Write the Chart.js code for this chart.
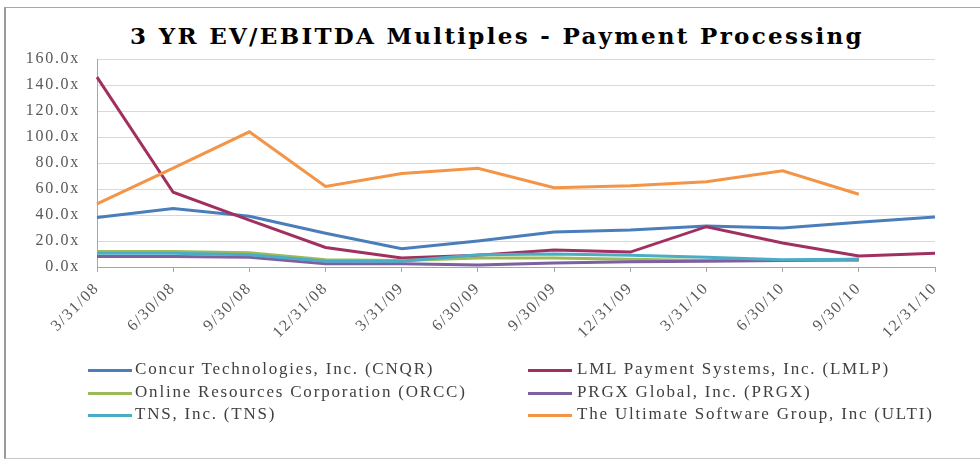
<!DOCTYPE html>
<html lang="en">
<head>
<meta charset="UTF-8" />
<script src="https://cdn.jsdelivr.net/npm/chart.js"></script>
<style>
  body {
    margin: 0;
    width: 980px;
    height: 460px;
    overflow: hidden;
    background: #fff;
    position: relative;
    font-family: "Liberation Serif", serif;
  }
  #frame {
    position: absolute;
    left: 4px;
    top: 7px;
    width: 1000px;
    height: 450px;
    border-left: 2px solid #9a9a9a;
    border-top: 1px solid #a8a8a8;
    border-bottom: 1px solid #c8c8c8;
  }
  #title {
    position: absolute;
    left: 0;
    width: 994px;
    top: 21px;
    line-height: 30px;
    text-align: center;
    font-family: "DejaVu Serif", serif;
    font-size: 23px;
    font-weight: bold;
    letter-spacing: 2.3px;
    color: #000;
  }
  canvas { position: absolute; left: 0; top: 0; }
  .swatch { position: absolute; width: 44px; height: 3px; }
  .ltext {
    position: absolute;
    font-size: 17px;
    line-height: 20px;
    letter-spacing: 1.8px;
    color: #404040;
    white-space: nowrap;
  }
</style>
</head>
<body>
  <div id="frame"></div>
  <div id="title">3 YR EV/EBITDA Multiples - Payment Processing</div>
  <canvas id="evChart" width="980" height="460"></canvas>
  <div id="legend"></div>

<script>
  // quarter ends
  const labels = ["3/31/08", "6/30/08", "9/30/08", "12/31/08", "3/31/09", "6/30/09",
                  "9/30/09", "12/31/09", "3/31/10", "6/30/10", "9/30/10", "12/31/10"];

  // EV/EBITDA multiples (x)
  const cnqr = [38, 45, 39, 26, 14, 20, 27, 28.5, 31.5, 30, 34.5, 38.5];
  const lmlp = [146, 57.5, 36, 15, 7, 9, 13, 11.5, 31, 18.5, 8.5, 10.5];
  const orcc = [12, 12, 11, 5.5, 5, 7, 7, 6, 5, 5, 5, null];
  const prgx = [8, 8, 7.5, 2.5, 2.5, 1.5, 3, 4, 4.5, 5, 6, null];
  const tns  = [10.5, 10.5, 9.5, 4.5, 4.5, 9.5, 10, 9, 7.5, 5.5, 6, null];
  const ulti = [48.5, 76, 104, 62, 72, 76, 61, 62.5, 65.5, 74, 56, null];

  const yTicks = [0, 20, 40, 60, 80, 100, 120, 140, 160];

  const names = [
    "Concur Technologies, Inc. (CNQR)",
    "LML Payment Systems, Inc. (LMLP)",
    "Online Resources Corporation (ORCC)",
    "PRGX Global, Inc. (PRGX)",
    "TNS, Inc. (TNS)",
    "The Ultimate Software Group, Inc (ULTI)"
  ];
  const colors = ["#4a7ebb", "#a0305f", "#9bbb59", "#7d60a0", "#4bacc6", "#f39447"];
  const series = [cnqr, lmlp, orcc, prgx, tns, ulti];

  const datasets = series.map((d, i) => ({
    label: names[i],
    data: d,
    borderColor: colors[i],
    backgroundColor: colors[i],
    borderWidth: 3,
    pointRadius: 0,
    tension: 0,
    fill: false,
    order: series.length - i // later series on top, like Excel
  }));

  // Garamond-ish spacing for canvas text
  const spacing = {
    id: "spacing",
    beforeDraw(chart) { chart.ctx.letterSpacing = "1.7px"; },
    afterDraw(chart) { chart.ctx.letterSpacing = "0px"; }
  };

  const tickFont = { family: "Liberation Serif", size: 16 };

  new Chart(document.getElementById("evChart"), {
    type: "line",
    data: { labels: labels, datasets: datasets },
    plugins: [spacing],
    options: {
      responsive: false,
      animation: false,
      layout: { padding: { left: 0, right: 45, top: 59, bottom: 120 } },
      plugins: {
        legend: { display: false },
        tooltip: { enabled: false }
      },
      scales: {
        x: {
          offset: false,
          grid: { drawOnChartArea: false, drawTicks: true, tickLength: 5, color: "#a6a6a6" },
          border: { color: "#a6a6a6", width: 1 },
          ticks: {
            autoSkip: false,
            maxRotation: 45,
            minRotation: 45,
            padding: 7,
            color: "#595959",
            font: tickFont
          },
          afterFit(scale) {
            scale.height = 73;
            scale.paddingLeft = 0;
            scale.paddingRight = 0;
          }
        },
        y: {
          min: 0,
          max: 160,
          afterBuildTicks(scale) { scale.ticks = yTicks.map(v => ({ value: v })); },
          grid: { color: "#d9d9d9", drawTicks: false },
          border: { color: "#a6a6a6", width: 1 },
          ticks: {
            padding: 17,
            color: "#595959",
            font: tickFont,
            callback: v => v.toFixed(1) + "x"
          },
          afterFit(scale) {
            scale.width = 97;
            scale.paddingTop = 0;
            scale.paddingBottom = 0;
          }
        }
      }
    }
  });

  // two-column legend under the chart
  const legend = document.getElementById("legend");
  const rowY = [370, 393, 415];
  const colSwatch = [88, 528];
  const colText = [135, 577];
  names.forEach((name, i) => {
    const row = Math.floor(i / 2), col = i % 2;
    const sw = document.createElement("div");
    sw.className = "swatch";
    sw.style.left = colSwatch[col] + "px";
    sw.style.top = (rowY[row] - 1.5) + "px";
    sw.style.background = colors[i];
    legend.appendChild(sw);
    const tx = document.createElement("div");
    tx.className = "ltext";
    tx.style.left = colText[col] + "px";
    tx.style.top = (rowY[row] - 11) + "px";
    tx.textContent = name;
    legend.appendChild(tx);
  });
</script>
</body>
</html>
